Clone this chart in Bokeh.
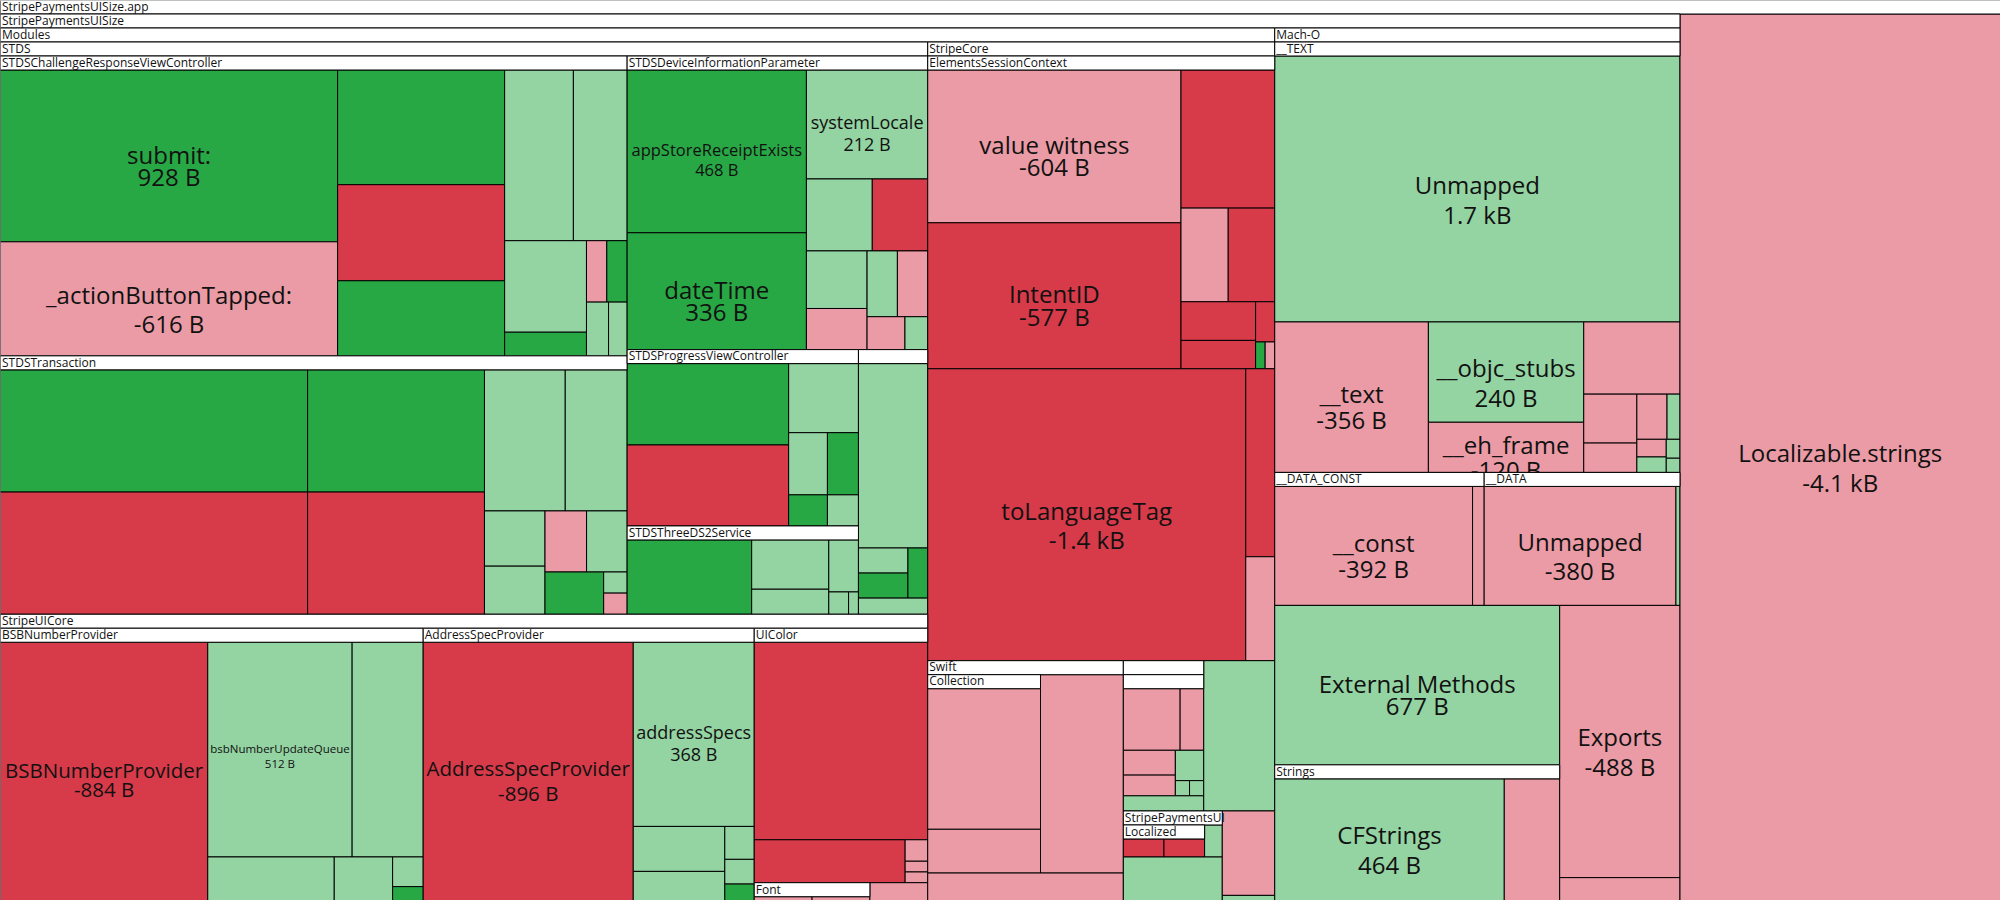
from bokeh.plotting import figure
from bokeh.models import ColumnDataSource, Range1d
from bokeh.core.properties import value
from bokeh.embed import file_html
from bokeh.resources import INLINE

# ---------------------------------------------------------------- data
# Leaves are (name, |size change in bytes|, kind); kind: G big increase,
# g small increase, R big decrease, r small decrease.
# Each node lists its children in rows; "v" = a column band at the left,
# "h" = a row band at the top (squarified treemap rows).

def N(name, *rows):
    return {"name": name, "rows": rows}

def G(*rows):
    return {"name": None, "rows": rows}

LOCALIZABLE = ("Localizable.strings", 4100, "r")

CHALLENGE = N("STDSChallengeResponseViewController",
    ("v", [("submit:", 928, "G"), ("_actionButtonTapped:", 616, "r")]),
    ("v", [(None, 307, "G"), (None, 257, "R"), (None, 201, "G")]),
    ("h", [(None, 188, "g"), (None, 147, "g")]),
    ("v", [(None, 120, "g"), (None, 31, "G")]),
    ("h", [(None, 20, "r"), (None, 20, "G")]),
    ("h", [(None, 19, "g"), (None, 16, "g")]))

TRANSACTION = N("STDSTransaction",
    ("v", [(None, 606, "G"), (None, 606, "R")]),
    ("v", [(None, 349, "G"), (None, 349, "R")]),
    ("h", [(None, 184, "g"), (None, 141, "g")]),
    ("v", [(None, 54, "g"), (None, 47, "g")]),
    ("h", [(None, 41, "r"), (None, 40, "g")]),
    ("v", [(None, 40, "G")]),
    ("h", [(None, 8, "g")]),
    ("h", [(None, 8, "r")]))

DEVICEINFO = N("STDSDeviceInformationParameter",
    ("v", [("appStoreReceiptExists", 468, "G"), ("dateTime", 336, "G")]),
    ("h", [("systemLocale", 212, "g")]),
    ("h", [(None, 76, "g"), (None, 64, "R")]),
    ("v", [(None, 56, "g"), (None, 40, "r")]),
    ("h", [(None, 32, "g"), (None, 32, "r")]),
    ("v", [(None, 20, "r")]),
    ("v", [(None, 12, "g")]))

PROGRESS = N("STDSProgressViewController",
    ("v", [(None, 218, "G"), (None, 217, "R")]),
    ("h", [(None, 80, "g")]),
    ("h", [(None, 40, "g"), (None, 32, "G")]),
    ("v", [(None, 20, "G")]),
    ("v", [(None, 16, "g")]))

THREEDS2 = N("STDSThreeDS2Service",
    ("v", [(None, 168, "G")]),
    ("v", [(None, 69, "g"), (None, 35, "g")]),
    ("h", [(None, 28, "g")]),
    ("v", [(None, 8, "g")]),
    ("v", [(None, 4, "g")]))

STDS_OTHER = N("",
    ("h", [(None, 206, "g")]),
    ("h", [G(("v", [(None, 20, "g"), (None, 20, "G")]), ("v", [(None, 16, "G")]))]),
    ("h", [(None, 18, "g")]))

STDS = N("STDS",
    ("v", [CHALLENGE, TRANSACTION]),
    ("h", [DEVICEINFO]),
    ("v", [PROGRESS, THREEDS2]),
    ("v", [STDS_OTHER]))

BSB = N("BSBNumberProvider",
    ("v", [("BSBNumberProvider", 884, "R")]),
    ("h", [("bsbNumberUpdateQueue", 512, "g"), (None, 252, "g")]),
    ("v", [(None, 91, "g")]),
    ("v", [(None, 42, "g")]),
    ("h", [(None, 15, "g")]),
    ("h", [(None, 7, "G")]))

ADDRESS = N("AddressSpecProvider",
    ("v", [("AddressSpecProvider", 896, "R")]),
    ("h", [("addressSpecs", 368, "g")]),
    ("v", [(None, 68, "g"), (None, 44, "g")]),
    ("h", [(None, 16, "g")]),
    ("h", [(None, 12, "g")]),
    ("h", [(None, 8, "G")]))

FONT = N("Font", ("v", [(None, 17, "r")]), ("v", [(None, 17, "r")]))

UICOLOR = N("UIColor",
    ("h", [(None, 566, "R")]),
    ("h", [(None, 107, "R"),
           G(("h", [(None, 8, "r")]), ("h", [(None, 4, "r")]), ("h", [(None, 4, "r")]))]),
    ("h", [FONT, (None, 17, "r")]))

STRIPEUICORE = N("StripeUICore", ("v", [BSB]), ("v", [ADDRESS]), ("v", [UICOLOR]))

ESC_SIDE = G(
    ("h", [(None, 202, "R")]),
    ("h", [(None, 69, "r"), (None, 68, "R")]),
    ("v", [(None, 45, "R"), (None, 33, "R")]),
    ("h", [(None, 12, "R")]),
    ("h", [(None, 4, "G"), (None, 4, "r")]))

ESC = N("ElementsSessionContext",
    ("h", [G(("h", [("value witness", 604, "r")]), ("h", [("IntentID", 577, "R")])), ESC_SIDE]),
    ("v", [("toLanguageTag", 1449, "R")]),
    ("h", [(None, 85, "R")]),
    ("h", [(None, 47, "r")]))

STRIPECORE = N("StripeCore", ("h", [ESC]))

COLLECTION = N("Collection", ("h", [(None, 270, "r")]), ("h", [(None, 84, "r")]))
SWIFT = N("Swift", ("h", [COLLECTION, (None, 260, "r")]), ("h", [(None, 85, "r")]))

INNER_BLANK = N("",
    ("h", [(None, 65, "r"), (None, 27, "r")]),
    ("v", [(None, 24, "r"), (None, 20, "r")]),
    ("h", [(None, 16, "g")]),
    ("h", [(None, 4, "g"), (None, 4, "g")]))
OUTER_BLANK = N("", ("h", [INNER_BLANK]), ("h", [(None, 20, "g")]))

LOCALIZED = N("Localized", ("v", [(None, 23, "R")]), ("v", [(None, 23, "R")]))
STRIPEPAYMENTSUI = N("StripePaymentsUI",
    ("h", [LOCALIZED, (None, 10, "g")]),
    ("h", [(None, 76, "g")]))

MODULES = N("Modules",
    ("v", [STDS, STRIPEUICORE]),
    ("h", [STRIPECORE]),
    ("v", [SWIFT]),
    ("h", [OUTER_BLANK, (None, 159, "g")]),
    ("v", [STRIPEPAYMENTSUI]),
    ("h", [(None, 66, "r")]),
    ("h", [(None, 4, "g")]))

TEXT_SEG = N("__TEXT",
    ("h", [("Unmapped", 1660, "g")]),
    ("v", [("__text", 356, "r")]),
    ("v", [("__objc_stubs", 240, "g"), ("__eh_frame", 120, "r")]),
    ("h", [(None, 107, "r")]),
    ("v", [(None, 40, "r"), (None, 24, "r")]),
    ("h", [(None, 21, "r"), (None, 9, "g")]),
    ("v", [(None, 8, "r"), (None, 7, "g")]),
    ("v", [(None, 4, "g"), (None, 3, "g")]))
DATA_CONST = N("__DATA_CONST", ("v", [("__const", 392, "r")]), ("v", [(None, 23, "r")]))
DATA_SEG = N("__DATA", ("v", [("Unmapped", 380, "r")]), ("v", [(None, 8, "g")]))
STRINGS = N("Strings", ("v", [("CFStrings", 464, "g")]), ("v", [(None, 112, "r")]))

MACHO = N("Mach-O",
    ("h", [TEXT_SEG]),
    ("h", [DATA_CONST, DATA_SEG]),
    ("v", [("External Methods", 677, "g"), STRINGS]),
    ("v", [("Exports", 488, "r"), (None, 41, "r")]))

BINARY = N("StripePaymentsUISize", ("v", [MODULES]), ("v", [MACHO]))
ROOT = N("StripePaymentsUISize.app", ("v", [BINARY]), ("v", [LOCALIZABLE]))

# ---------------------------------------------------------------- styles
COLORS = {"G": "#28a745", "g": "#94d3a2", "R": "#d73a49", "r": "#ea9ba5"}
LABEL_FONT = {"appStoreReceiptExists": 16.5, "systemLocale": 18, "bsbNumberUpdateQueue": 11.5,
              "BSBNumberProvider": 20.5, "AddressSpecProvider": 20.5, "addressSpecs": 18}
HEADER_H = 14.0
W, H = 2000, 900

# ---------------------------------------------------------------- layout
def total(item):
    if isinstance(item, tuple):
        return item[1]
    return sum(total(c) for _, cs in item["rows"] for c in cs)

leaves, headers = [], []

def place(item, x0, y0, x1, y1):
    if isinstance(item, tuple):
        leaves.append((item, x0, y0, x1, y1))
        return
    if item["name"] is not None:
        headers.append((item["name"], x0, y0, x1, y0 + HEADER_H))
        y0 += HEADER_H
    rem = total(item)
    for d, items in item["rows"]:
        s = sum(total(c) for c in items)
        frac = s / rem if rem else 1.0
        if d == "v":
            bx1 = x0 + (x1 - x0) * frac
            yy = y0
            for c in items:
                h = (y1 - y0) * total(c) / s
                place(c, x0, yy, bx1, yy + h)
                yy += h
            x0 = bx1
        else:
            by1 = y0 + (y1 - y0) * frac
            xx = x0
            for c in items:
                w = (x1 - x0) * total(c) / s
                place(c, xx, y0, xx + w, by1)
                xx += w
            y0 = by1
        rem -= s

place(ROOT, 0, -0.5, W, H)

def fmt(v, kind):
    sign = "-" if kind in "Rr" else ""
    if v >= 1000:
        return f"{sign}{v / 1000:.1f} kB"
    return f"{sign}{v} B"

def desc_depth(name):
    if any(c in "gjpqyQ" for c in name):
        return 0.24
    if "_" in name:
        return 0.12
    return 0.0

leaf_src = ColumnDataSource(dict(
    left=[l[1] for l in leaves], right=[l[3] for l in leaves],
    top=[l[2] for l in leaves], bottom=[l[4] for l in leaves],
    color=[COLORS[l[0][2]] for l in leaves]))

tx, ty, tt, tf = [], [], [], []
for (name, v, kind), x0, y0, x1, y1 in leaves:
    if not name:
        continue
    fs = LABEL_FONT.get(name, 24)
    dd = desc_depth(name)
    cx, cy = (x0 + x1) / 2, (y0 + y1) / 2
    shift = 0.58 * fs - 3.2          # renderer places "alphabetic" text a bit low
    b1 = cy + (0.74 - dd) / 2 * fs - shift
    b2 = b1 + (0.92 + 1.33 * dd) * fs
    tx += [cx, cx]
    ty += [b1, b2]
    tt += [name, fmt(v, kind)]
    tf += [f"{fs}px", f"{fs}px"]
label_src = ColumnDataSource(dict(x=tx, y=ty, text=tt, fs=tf))

hdr_src = ColumnDataSource(dict(
    left=[h[1] for h in headers], right=[h[3] for h in headers],
    top=[h[2] for h in headers], bottom=[h[4] for h in headers]))
hdr_txt = ColumnDataSource(dict(
    x=[h[1] + 1.5 for h in headers if h[0]], y=[h[2] + 6.3 for h in headers if h[0]],
    text=[h[0] for h in headers if h[0]]))

# ---------------------------------------------------------------- figure
# Bokeh's page template sets the body margin to 0, so a 2000x900 figure
# fills the 2000x900 window exactly.
p = figure(width=W, height=H, x_range=Range1d(0, W), y_range=Range1d(H, 0),
           output_backend="svg", toolbar_location=None, min_border=0,
           x_axis_type=None, y_axis_type=None)
p.grid.visible = False
p.outline_line_color = None
p.background_fill_color = "white"

p.quad(left="left", right="right", top="top", bottom="bottom", source=leaf_src,
       fill_color="color", line_color="#000000", line_width=1)
p.text(x="x", y="y", text="text", source=label_src, text_font=value("Open Sans"),
       text_font_size="fs", text_align="center", text_baseline="alphabetic", text_color="#111111")
p.quad(left="left", right="right", top="top", bottom="bottom", source=hdr_src,
       fill_color="white", line_color="#000000", line_width=1)
p.text(x="x", y="y", text="text", source=hdr_txt, text_font=value("Open Sans"),
       text_font_size="12px", text_align="left", text_baseline="alphabetic", text_color="#111111")

open("out.html", "w").write(file_html(p, INLINE))
